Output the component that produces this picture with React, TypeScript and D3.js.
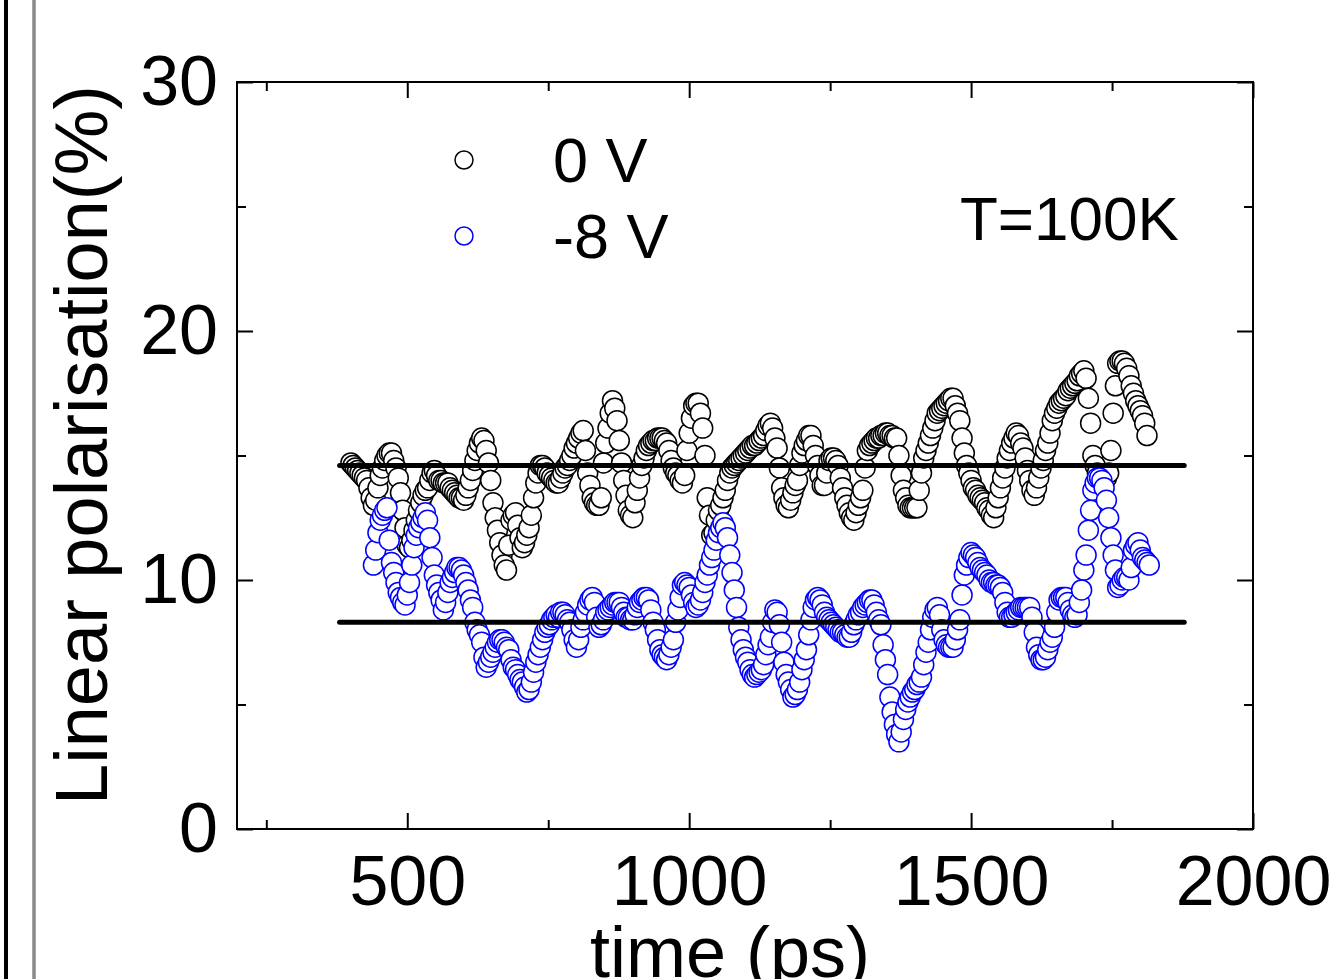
import React, { useEffect, useRef } from 'react';
import * as d3 from 'd3';

// both traces sampled every 4 ps
const timeStep = 4;
const startBlack = 400;
const startBlue = 440;

// linear polarisation (%) at 0 V, from 400 ps
const pol0V = [
  14.7, 14.6, 14.5, 14.4, 14.3, 14.2, 14.1, 14.0, 13.7, 13.3,
  13.0, 13.2, 13.7, 14.2, 14.5, 14.8, 15.0, 15.1, 15.1, 14.8,
  14.5, 14.1, 13.5, 12.8, 12.1, 11.4, 11.3, 11.6, 12.0, 12.4,
  12.8, 13.1, 13.4, 13.6, 13.7, 14.0, 14.3, 14.4, 14.2, 14.0,
  14.0, 13.9, 13.9, 13.9, 13.7, 13.6, 13.5, 13.4, 13.3, 13.3,
  13.2, 13.4, 13.7, 14.0, 14.4, 14.8, 15.2, 15.5, 15.7, 15.6,
  15.2, 14.7, 14.0, 13.1, 12.5, 12.0, 11.5, 11.0, 10.6, 10.4,
  11.4, 12.4, 12.6, 12.7, 12.2, 11.7, 11.3, 11.5, 11.8, 12.1,
  12.6, 13.3, 13.9, 14.3, 14.6, 14.6, 14.5, 14.3, 14.2, 14.1,
  14.0, 13.9, 13.9, 14.1, 14.3, 14.5, 14.6, 14.8, 15.0, 15.3,
  15.5, 15.7, 15.9, 16.0, 15.2, 14.3, 13.8, 13.3, 13.1, 13.0,
  13.0, 13.3, 14.7, 15.5, 16.1, 16.7, 17.2, 16.9, 16.4, 15.6,
  14.7, 14.0, 13.4, 12.8, 12.6, 12.5, 13.1, 13.6, 14.1, 14.6,
  14.9, 15.2, 15.4, 15.5, 15.6, 15.6, 15.7, 15.7, 15.7, 15.6,
  15.5, 15.2, 14.8, 14.5, 14.3, 14.2, 14.0, 13.9, 14.2, 15.2,
  15.9, 16.5, 17.0, 17.1, 17.1, 16.7, 16.1, 15.0, 13.3, 12.6,
  11.8, 11.9, 12.4, 12.8, 13.0, 13.3, 13.6, 14.0, 14.3, 14.5,
  14.6, 14.7, 14.8, 14.9, 15.0, 15.1, 15.2, 15.3, 15.4, 15.4,
  15.5, 15.6, 15.7, 15.8, 16.0, 16.2, 16.3, 16.1, 15.7, 15.3,
  14.5, 13.7, 13.3, 13.0, 12.9, 13.2, 13.5, 13.8, 14.0, 14.6,
  15.1, 15.4, 15.6, 15.8, 15.8, 15.4, 15.0, 14.6, 14.2, 13.8,
  13.8, 14.3, 14.8, 14.9, 14.9, 14.8, 14.6, 14.1, 13.7, 13.3,
  13.0, 12.7, 12.5, 12.4, 12.7, 13.0, 13.3, 13.6, 14.5, 15.2,
  15.4, 15.5, 15.6, 15.7, 15.7, 15.8, 15.8, 15.9, 15.9, 15.8,
  15.8, 15.7, 15.7, 15.0, 14.2, 13.6, 13.3, 13.0, 12.9, 12.9,
  12.9, 12.9, 13.6, 14.3, 14.9, 15.2, 15.5, 15.8, 16.1, 16.4,
  16.7, 16.8, 16.9, 17.0, 17.1, 17.2, 17.3, 17.3, 17.0, 16.7,
  16.4, 15.7, 15.1, 14.6, 14.3, 14.0, 13.7, 13.6, 13.4, 13.3,
  13.2, 13.1, 12.9, 12.8, 12.6, 12.5, 12.9, 13.3, 13.7, 14.1,
  14.5, 14.9, 15.2, 15.5, 15.7, 15.9, 15.8, 15.5, 15.3, 14.9,
  14.4, 14.0, 13.6, 13.4, 13.7, 14.1, 14.5, 14.8, 15.2, 15.5,
  15.9, 16.4, 16.7, 16.9, 17.1, 17.2, 17.3, 17.4, 17.6, 17.7,
  17.8, 17.9, 18.0, 18.2, 18.3, 18.4, 18.1, 17.3, 16.3, 15.0,
  14.6, 14.3, 14.0, 14.0, 14.1, 14.1, 14.3, 15.2, 16.7, 17.8,
  18.7, 18.8, 18.8, 18.7, 18.5, 18.2, 17.8, 17.5, 17.2, 17.0,
  16.8, 16.6, 16.3, 15.8,
];

// linear polarisation (%) at -8 V, from 440 ps
const polMinus8V = [
  10.6, 11.2, 11.9, 12.4, 12.6, 12.8, 12.9, 11.6, 10.7, 10.3,
  9.9, 9.5, 9.3, 9.1, 9.0, 9.4, 9.9, 10.6, 11.3, 11.8,
  12.1, 12.3, 12.5, 12.7, 12.4, 11.7, 10.9, 10.2, 9.8, 9.5,
  9.2, 8.8, 9.1, 9.5, 9.9, 10.1, 10.3, 10.5, 10.5, 10.4,
  10.2, 9.9, 9.6, 9.2, 8.9, 8.3, 8.0, 7.8, 7.5, 6.9,
  6.5, 6.7, 6.9, 7.1, 7.3, 7.5, 7.6, 7.6, 7.5, 7.3,
  7.2, 6.8, 6.5, 6.4, 6.2, 6.0, 5.9, 5.7, 5.5, 5.6,
  5.9, 6.3, 6.7, 7.0, 7.3, 7.6, 7.9, 8.1, 8.2, 8.4,
  8.5, 8.6, 8.5, 8.7, 8.7, 8.6, 8.4, 8.3, 8.0, 7.6,
  7.3, 7.6, 8.1, 8.4, 8.7, 9.0, 9.2, 9.3, 9.1, 8.5,
  8.1, 8.2, 8.4, 8.7, 8.8, 8.9, 9.0, 9.1, 9.1, 9.1,
  8.9, 8.7, 8.5, 8.5, 8.4, 8.4, 8.6, 8.9, 9.1, 9.2,
  9.3, 9.3, 9.2, 8.8, 8.3, 8.0, 7.6, 7.2, 7.0, 6.9,
  6.8, 7.0, 7.3, 7.6, 8.3, 8.8, 9.3, 9.8, 9.9, 9.8,
  9.7, 9.4, 9.1, 8.9, 9.0, 9.2, 9.5, 9.9, 10.2, 10.6,
  10.9, 11.2, 11.6, 11.9, 12.1, 12.3, 12.1, 11.7, 11.0, 10.3,
  9.6, 8.9, 8.1, 7.6, 7.2, 6.9, 6.7, 6.4, 6.2, 6.1,
  6.2, 6.3, 6.4, 6.6, 7.0, 7.4, 7.7, 8.3, 8.8, 8.7,
  8.2, 7.5, 6.7, 6.2, 5.9, 5.6, 5.3, 5.4, 5.6, 5.9,
  6.4, 6.8, 7.2, 7.8, 8.4, 8.9, 9.2, 9.3, 9.2, 9.0,
  8.7, 8.5, 8.4, 8.3, 8.2, 8.1, 8.0, 7.9, 7.9, 7.8,
  7.7, 7.7, 7.9, 8.2, 8.4, 8.6, 8.7, 8.9, 9.0, 9.1,
  9.2, 9.2, 9.0, 8.7, 8.4, 8.2, 7.4, 6.8, 6.2, 5.3,
  4.7, 4.2, 3.8, 3.5, 3.9, 4.4, 4.8, 5.1, 5.3, 5.5,
  5.6, 5.8, 5.9, 6.1, 6.6, 7.1, 7.5, 8.0, 8.5, 8.8,
  8.9, 8.6, 8.0, 7.6, 7.4, 7.3, 7.3, 7.3, 7.6, 8.0,
  8.4, 9.4, 10.2, 10.6, 10.9, 11.1, 11.0, 10.9, 10.7, 10.5,
  10.4, 10.3, 10.2, 10.0, 9.9, 9.9, 9.8, 9.8, 9.7, 9.5,
  9.1, 8.7, 8.5, 8.5, 8.6, 8.7, 8.8, 8.9, 8.9, 8.9,
  8.9, 8.9, 8.5, 7.9, 7.3, 7.0, 6.8, 6.8, 6.9, 7.2,
  7.5, 7.7, 8.1, 8.7, 9.2, 9.3, 9.3, 9.3, 9.1, 8.8,
  8.6, 8.5, 8.6, 9.1, 9.6, 10.4, 11.0, 12.0, 12.8, 13.6,
  13.9, 14.1, 14.1, 14.0, 13.7, 13.2, 12.5, 11.7, 11.0, 10.4,
  9.7, 9.8, 10.0, 10.1, 10.1, 10.0, 10.5, 11.2, 11.4, 11.5,
  11.2, 10.9, 10.8, 10.7, 10.6,
];

// averaged levels drawn as thick lines
const meanLevels = [14.6, 8.3];
const meanSpan = [380, 1878];

const xMajor = [500, 1000, 1500, 2000];
const xMinor = [250, 750, 1250, 1750];
const yMajor = [0, 10, 20, 30];
const yMinor = [5, 15, 25];

const legendItems = ['0 V', '-8 V'];
const colors = ['#000000', '#0000ff'];

const FONT = '"Liberation Sans", Arial, Helvetica, sans-serif';

const drawChart = (el) => {
  const svg = d3.select(el);
  svg.selectAll('*').remove();

  const x = d3.scaleLinear().domain([198, 2000]).range([237, 1253]);
  const y = d3.scaleLinear().domain([0, 30]).range([829, 82]);

  // edges of the neighbouring panels
  svg.append('line')
    .attr('x1', 6).attr('x2', 6).attr('y1', 0).attr('y2', 979)
    .attr('stroke', '#000').attr('stroke-width', 4);
  svg.append('line')
    .attr('x1', 34).attr('x2', 34).attr('y1', 0).attr('y2', 979)
    .attr('stroke', '#8a8a8a').attr('stroke-width', 3.5);

  const series = [
    { values: pol0V, start: startBlack, color: colors[0] },
    { values: polMinus8V, start: startBlue, color: colors[1] },
  ];
  series.forEach((s) => {
    svg.append('g')
      .selectAll('circle')
      .data(s.values)
      .join('circle')
      .attr('cx', (d, i) => x(s.start + i * timeStep))
      .attr('cy', d => y(d))
      .attr('r', 10)
      .attr('fill', '#fff')
      .attr('stroke', s.color)
      .attr('stroke-width', 1.5);
  });

  svg.append('g')
    .selectAll('line')
    .data(meanLevels)
    .join('line')
    .attr('x1', x(meanSpan[0]))
    .attr('x2', x(meanSpan[1]))
    .attr('y1', d => y(d))
    .attr('y2', d => y(d))
    .attr('stroke', '#000')
    .attr('stroke-width', 5)
    .attr('stroke-linecap', 'round');

  // axes: inward ticks on all four sides
  const addAxis = (axis, tx, ty, labels) => {
    const g = svg.append('g')
      .attr('transform', `translate(${tx},${ty})`)
      .call(axis);
    g.select('.domain').remove();
    g.selectAll('line').attr('stroke', '#000').attr('stroke-width', 2);
    g.attr('font-family', FONT).attr('font-size', 70);
    if (!labels) g.selectAll('text').remove();
    else g.selectAll('text').attr('fill', '#000');
    return g;
  };

  addAxis(d3.axisBottom(x).tickValues(xMajor).tickSize(-16).tickPadding(26).tickFormat(d3.format('d')), 0, 829, true);
  addAxis(d3.axisBottom(x).tickValues(xMinor).tickSize(-9), 0, 829, false);
  addAxis(d3.axisTop(x).tickValues(xMajor).tickSize(-16), 0, 82, false);
  addAxis(d3.axisTop(x).tickValues(xMinor).tickSize(-9), 0, 82, false);
  addAxis(d3.axisLeft(y).tickValues(yMajor).tickSize(-16).tickPadding(19).tickFormat(d3.format('d')), 237, 0, true);
  addAxis(d3.axisLeft(y).tickValues(yMinor).tickSize(-9), 237, 0, false);
  addAxis(d3.axisRight(y).tickValues(yMajor).tickSize(-16), 1253, 0, false);
  addAxis(d3.axisRight(y).tickValues(yMinor).tickSize(-9), 1253, 0, false);

  svg.append('rect')
    .attr('x', 237).attr('y', 82)
    .attr('width', 1016).attr('height', 747)
    .attr('fill', 'none').attr('stroke', '#000').attr('stroke-width', 2);

  svg.append('text')
    .attr('transform', 'translate(107,445) rotate(-90)')
    .attr('text-anchor', 'middle')
    .attr('font-family', FONT).attr('font-size', 74)
    .text('Linear polarisation(%)');

  svg.append('text')
    .attr('x', 730).attr('y', 977)
    .attr('text-anchor', 'middle')
    .attr('font-family', FONT).attr('font-size', 72)
    .text('time (ps)');

  const legend = svg.append('g');
  legendItems.forEach((label, i) => {
    legend.append('circle')
      .attr('cx', 464).attr('cy', 160 + i * 76).attr('r', 9)
      .attr('fill', '#fff').attr('stroke', colors[i]).attr('stroke-width', 1.5);
    legend.append('text')
      .attr('x', 553).attr('y', 182 + i * 76)
      .attr('font-family', FONT).attr('font-size', 63)
      .text(label);
  });

  svg.append('text')
    .attr('x', 960).attr('y', 240)
    .attr('font-family', FONT).attr('font-size', 62)
    .text('T=100K');
};

export default function App() {
  const ref = useRef(null);
  useEffect(() => {
    document.body.style.margin = '0';
    drawChart(ref.current);
  }, []);
  return <svg ref={ref} width={1336} height={979} style={{ display: 'block', background: '#fff' }} />;
}
